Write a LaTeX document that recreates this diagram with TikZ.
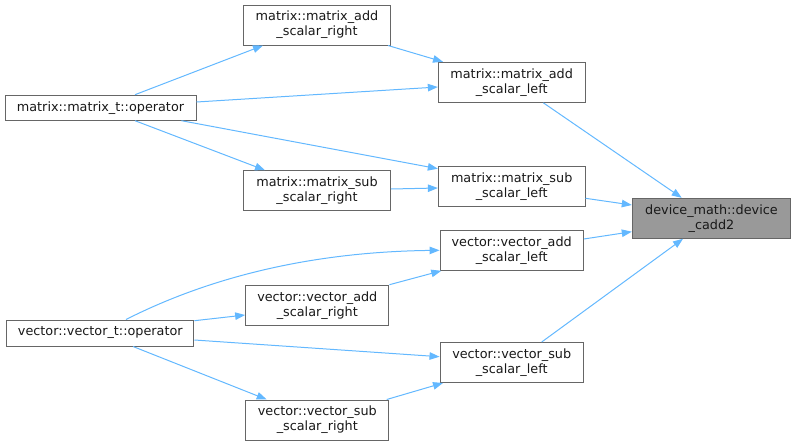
\documentclass[tikz,border=0pt]{standalone}
\usepackage{fontspec}
\setmainfont{DejaVu Sans}
\usetikzlibrary{arrows.meta}
\definecolor{edgeblue}{HTML}{63B8FF}
\definecolor{boxline}{HTML}{666666}
\definecolor{hlfill}{HTML}{999999}
\begin{document}
\begin{tikzpicture}[x=1pt,y=-1pt,
  fn/.style={draw=boxline,line width=1pt,fill=white,inner sep=0pt,align=center,
    font=\fontsize{12.8}{15}\selectfont,text=black!90},
  hl/.style={fn,fill=hlfill},
  call/.style={draw=edgeblue,line width=1pt,-{Triangle[length=10pt,width=7.5pt]}}]
\useasboundingbox (0,0) rectangle (796,445);
% nodes
\node[fn,minimum width=191pt,minimum height=25pt] (matop) at (100.5,107.7) {matrix::matrix\_t::operator};
\node[fn,minimum width=147pt,minimum height=40pt] (masr) at (317,25) {matrix::matrix\_add\\\_scalar\_right};
\node[fn,minimum width=147pt,minimum height=40pt] (mssr) at (317,190.7) {matrix::matrix\_sub\\\_scalar\_right};
\node[fn,minimum width=146.7pt,minimum height=40pt] (mal) at (511.7,82.3) {matrix::matrix\_add\\\_scalar\_left};
\node[fn,minimum width=146.7pt,minimum height=40pt] (msl) at (511.7,186.7) {matrix::matrix\_sub\\\_scalar\_left};
\node[hl,minimum width=158.4pt,minimum height=40pt] (dev) at (711.5,218.3) {device\_math::device\\\_cadd2};
\node[fn,minimum width=143.3pt,minimum height=40pt] (val) at (511.7,250.3) {vector::vector\_add\\\_scalar\_left};
\node[fn,minimum width=143.3pt,minimum height=40pt] (vsl) at (511.7,362.5) {vector::vector\_sub\\\_scalar\_left};
\node[fn,minimum width=143.3pt,minimum height=40pt] (var) at (317.3,305.2) {vector::vector\_add\\\_scalar\_right};
\node[fn,minimum width=143.3pt,minimum height=40pt] (vsr) at (317.3,420) {vector::vector\_sub\\\_scalar\_right};
\node[fn,minimum width=187.3pt,minimum height=26pt] (vecop) at (100.3,333) {vector::vector\_t::operator};
% edges
\draw[call] ([xshift=34.5pt]matop.north) -- ([xshift=-54pt]masr.south);
\draw[call] ([yshift=5.7pt]matop.east) -- ([yshift=-4.7pt]mal.west);
\draw[call] ([xshift=71pt]masr.south) -- ([xshift=-68.7pt]mal.north);
\draw[call] ([xshift=81pt]matop.south) -- ([yshift=18pt]msl.west);
\draw[call] ([xshift=34.5pt]matop.south) -- ([xshift=-52pt]mssr.north);
\draw[call] ([yshift=1.7pt]mssr.east) -- ([yshift=-1.3pt]msl.west);
\draw[call] ([xshift=31.6pt]mal.south) -- ([xshift=-29.8pt]dev.north);
\draw[call] ([yshift=-11.6pt]msl.east) -- ([yshift=13.3pt]dev.west);
\draw[call] ([yshift=11.3pt]val.east) -- ([yshift=-13.4pt]dev.west);
\draw[call] ([xshift=30pt]vsl.north) -- ([xshift=-28.5pt]dev.south);
\draw[call] ([xshift=25.7pt]vecop.north) .. controls (200,282) and (300,252) .. (val.west);
\draw[call] ([yshift=12.3pt]vecop.east) -- ([yshift=-9.8pt]var.west);
\draw[call] (var.north east) -- ([xshift=1.7pt]val.south west);
\draw[call] ([yshift=-7pt]vecop.east) -- ([yshift=5.8pt]vsl.west);
\draw[call] ([xshift=32.7pt]vecop.south) -- ([xshift=-50.6pt]vsr.north);
\draw[call] ([xshift=69.4pt]vsr.north) -- ([xshift=-68.7pt]vsl.south);
\end{tikzpicture}
\end{document}
